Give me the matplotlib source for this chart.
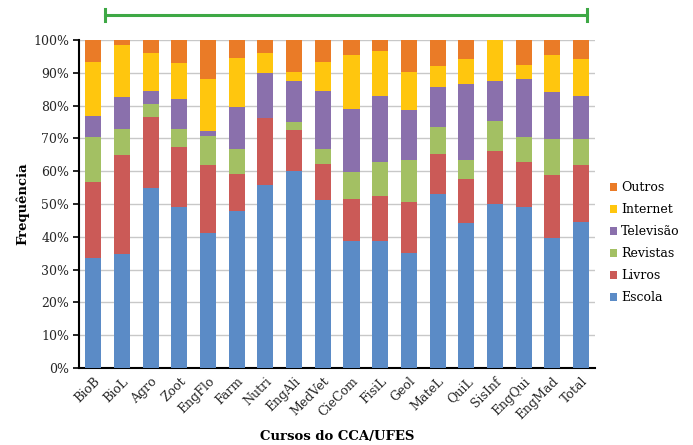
import matplotlib.pyplot as plt
import numpy as np
from matplotlib.lines import Line2D
from matplotlib.ticker import PercentFormatter

plt.rcParams['font.family'] = ['DejaVu Serif']

cursos = ['BioB', 'BioL', 'Agro', 'Zoot', 'EngFlo', 'Farm', 'Nutri', 'EngAli',
          'MedVet', 'CieCom', 'FisiL', 'Geol', 'MateL', 'QuiL', 'SisInf',
          'EngQui', 'EngMad', 'Total']

# percentages per source, one value per course
escola    = [33.6, 34.8, 54.9, 49.0, 41.3, 48.0, 55.9, 60.0, 51.1, 38.6, 38.8, 35.0, 53.1, 44.2, 50.0, 49.0, 39.7, 44.6]
livros    = [23.1, 30.3, 21.6, 18.3, 20.6, 11.2, 20.3, 12.6, 11.0, 12.8, 13.7, 15.7, 12.2, 13.3, 16.2, 13.8, 19.0, 17.2]
revistas  = [13.6,  7.9,  4.0,  5.5,  8.8,  7.5,  0.0,  2.5,  4.6,  8.3, 10.2, 12.7,  8.1,  5.9,  9.0,  7.7, 11.2,  7.9]
televisao = [ 6.6,  9.6,  3.9,  9.2,  1.7, 12.9, 13.8, 12.5, 17.7, 19.3, 20.3, 15.4, 12.2, 23.3, 12.4, 17.7, 14.4, 13.1]
internet  = [16.3, 15.9, 11.7, 10.9, 15.6, 14.9,  6.1,  2.6,  9.0, 16.4, 13.7, 11.5,  6.5,  7.5, 12.4,  4.1, 11.0, 11.3]
outros    = [ 6.8,  1.5,  3.9,  7.1, 12.0,  5.5,  3.9,  9.8,  6.6,  4.6,  3.3,  9.7,  7.9,  5.8,  0.0,  7.7,  4.7,  5.9]

series = [('Escola', escola, '#5B8BC6'),
          ('Livros', livros, '#CB5A57'),
          ('Revistas', revistas, '#A3C063'),
          ('Televisão', televisao, '#8A70AC'),
          ('Internet', internet, '#FFC60E'),
          ('Outros', outros, '#EA7B27')]

fig = plt.figure(figsize=(6.93, 4.45), dpi=100)
ax = fig.add_axes([0.114, 0.173, 0.745, 0.737])

x = np.arange(len(cursos))
bottom = np.zeros(len(cursos))
for name, vals, color in series:
    vals = np.array(vals)
    ax.bar(x, vals, 0.56, bottom=bottom, color=color, label=name, zorder=3)
    bottom += vals

ax.set_ylim(0, 100)
ax.set_xlim(-0.5, len(cursos) - 0.5)
ax.set_yticks(np.arange(0, 101, 10))
ax.yaxis.set_major_formatter(PercentFormatter(decimals=0))
ax.grid(axis='y', color='#C8C8C8', linewidth=1, zorder=0)
ax.set_xticks(x)
ax.set_xticklabels(cursos, rotation=45, ha='right', rotation_mode='anchor', fontsize=9)
ax.tick_params(axis='x', length=0, pad=5, labelcolor='#262626')
ax.tick_params(axis='y', labelsize=9, length=4, width=1.2, labelcolor='#262626', pad=3)
for s in ['top', 'right']:
    ax.spines[s].set_visible(False)
for s in ['left', 'bottom']:
    ax.spines[s].set_linewidth(1.5)

ax.set_ylabel('Frequência', fontweight='bold', fontsize=9.5, labelpad=3)
ax.set_xlabel('Cursos do CCA/UFES', fontweight='bold', fontsize=9.5, labelpad=6)

handles, labels = ax.get_legend_handles_labels()
fig.legend(handles[::-1], labels[::-1], loc='center left', bbox_to_anchor=(0.880, 0.455),
           frameon=False, fontsize=9, handlelength=0.6, handleheight=0.6,
           handletextpad=0.3, labelspacing=0.72, borderaxespad=0, borderpad=0)

# green bracket across the top
fig.add_artist(Line2D([105 / 693, 587 / 693], [1 - 15 / 445, 1 - 15 / 445],
                      color='#3EA845', linewidth=2.2))
for xe in (105 / 693, 587 / 693):
    fig.add_artist(Line2D([xe, xe], [1 - 9 / 445, 1 - 21 / 445],
                          color='#3EA845', linewidth=2.2))

fig.savefig('out.png', dpi=100)
plt.close()
